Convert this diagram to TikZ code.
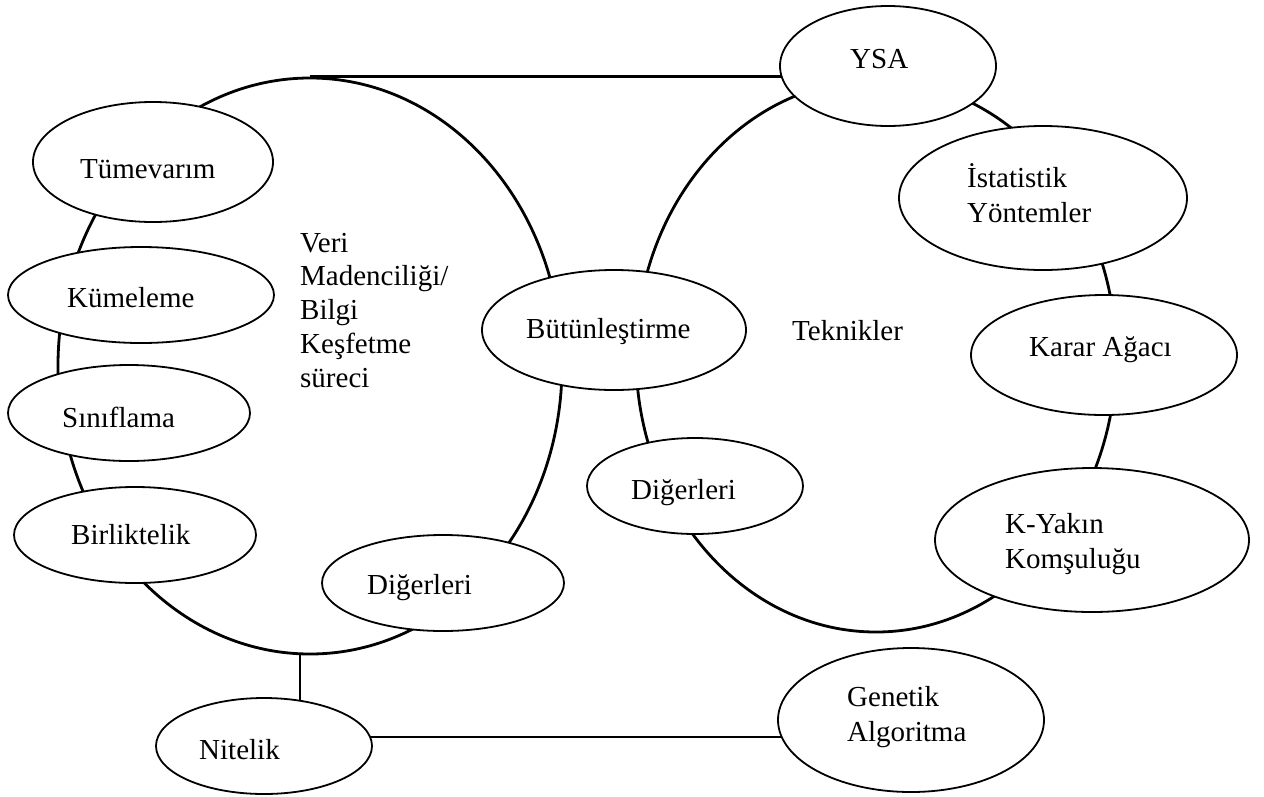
\documentclass[tikz,border=0pt]{standalone}
\usepackage{fontspec}
\setmainfont{Liberation Serif}
\usetikzlibrary{shapes.geometric,backgrounds}
\tikzset{
  oval/.style={ellipse, draw, fill=white, line width=1.8pt, inner sep=0pt},
  ring/.style={ellipse, draw, line width=2.8pt, inner sep=0pt},
  link/.style={line width=2.8pt},
  lbl/.style={anchor=base west, inner sep=0pt, font=\fontsize{29}{34}\selectfont},
}
\begin{document}
\begin{tikzpicture}[x=1pt,y=-1pt]
\useasboundingbox (0,0) rectangle (1264,796);

% small ovals (white filled, drawn over the two large rings)
\node[oval, minimum width=240pt, minimum height=120pt] (tum)  at (153,162) {};
\node[oval, minimum width=266pt, minimum height=96pt]  (kum)  at (141,295) {};
\node[oval, minimum width=242pt, minimum height=96pt]  (sin)  at (129,413) {};
\node[oval, minimum width=242pt, minimum height=96pt]  (bir)  at (135,535) {};
\node[oval, minimum width=242pt, minimum height=96pt]  (digL) at (443,583) {};
\node[oval, minimum width=216pt, minimum height=96pt]  (nit)  at (264,746) {};
\node[oval, minimum width=264pt, minimum height=120pt] (but)  at (614,330) {};
\node[oval, minimum width=216pt, minimum height=120pt] (ysa)  at (888,66)  {};
\node[oval, minimum width=288pt, minimum height=144pt] (ist)  at (1043,198) {};
\node[oval, minimum width=266pt, minimum height=120pt] (kar)  at (1104,355) {};
\node[oval, minimum width=216pt, minimum height=96pt]  (digR) at (695,486) {};
\node[oval, minimum width=314pt, minimum height=144pt] (kyk)  at (1092,540) {};
\node[oval, minimum width=266pt, minimum height=144pt] (gen)  at (911,720) {};

% labels
\node[lbl] (tTum)  at (80,178)   {Tümevarım};
\node[lbl] (tKum)  at (67,307)   {Kümeleme};
\node[lbl] (tSin)  at (62,427)   {Sınıflama};
\node[lbl] (tBir)  at (71,544)   {Birliktelik};
\node[lbl] (tDigL) at (367,594)  {Diğerleri};
\node[lbl] (tNit)  at (199,759)  {Nitelik};
\node[lbl] (tBut)  at (526,338)  {Bütünleştirme};
\node[lbl] (tYsa)  at (850,68)   {YSA};
\node[lbl] (tIst1) at (967,187)  {İstatistik};
\node[lbl] (tIst2) at (967,222)  {Yöntemler};
\node[lbl] (tKar)  at (1029,356) {Karar Ağacı};
\node[lbl] (tDigR) at (631,499)  {Diğerleri};
\node[lbl] (tKyk1) at (1005,533) {K-Yakın};
\node[lbl] (tKyk2) at (1005,568) {Komşuluğu};
\node[lbl] (tGen1) at (847,706)  {Genetik};
\node[lbl] (tGen2) at (847,741)  {Algoritma};
\node[lbl] (tTek)  at (792,340)  {Teknikler};
\node[lbl] (tV1)   at (300,252)  {Veri};
\node[lbl] (tV2)   at (300,285)  {Madenciliği/};
\node[lbl] (tV3)   at (300,319)  {Bilgi};
\node[lbl] (tV4)   at (300,353)  {Keşfetme};
\node[lbl] (tV5)   at (300,387)  {süreci};

\begin{pgfonlayer}{background}
  % the two large rings
  \node[ring, minimum width=504pt, minimum height=576pt] (bigL) at (310,366) {};
  \node[ring, minimum width=480pt, minimum height=552pt] (bigR) at (876,356) {};
  % connectors
  \draw[link] (bigL.north) -- (bigL.north -| ysa.center);
  \coordinate (nj) at (300,654);
  \draw[link] (nj) -- (nj |- nit.center);
  \coordinate (ng) at (560,737);
  \draw[link] (nit.center |- ng) -- (gen.center |- ng);
\end{pgfonlayer}
\end{tikzpicture}
\end{document}
